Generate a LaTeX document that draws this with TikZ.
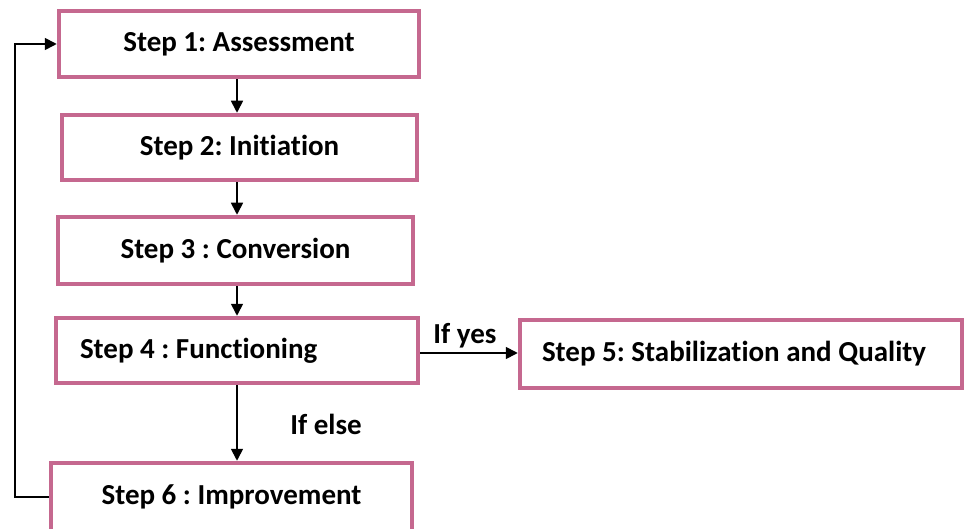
\documentclass[tikz,border=0pt]{standalone}
\usepackage{fontspec}
\setmainfont{Carlito}[Ligatures={NoCommon}]
\frenchspacing
\usetikzlibrary{arrows.meta}
\definecolor{boxpink}{RGB}{197,104,143}
\tikzset{
  stepbox/.style={draw=boxpink, line width=4.5pt, fill=white, rectangle, inner sep=0pt,
    font=\bfseries\fontsize{29}{32}\selectfont, text=black},
  arr/.style={draw=black, line width=1.7pt, -{Triangle[length=12pt,width=12pt]}},
  lbl/.style={font=\bfseries\fontsize{29}{32}\selectfont, inner sep=0pt}
}
\begin{document}
\begin{tikzpicture}[x=1pt,y=-1pt]
\useasboundingbox (0,0) rectangle (965,529);
\node[stepbox, minimum width=360pt, minimum height=66pt] (b1) at (239,44) {Step 1: Assessment};
\node[stepbox, minimum width=355pt, minimum height=65pt] (b2) at (239.5,147.5) {Step 2: Initiation};
\node[stepbox, minimum width=355pt, minimum height=67pt] (b3) at (235.5,250.5) {Step 3 : Conversion};
\node[stepbox, minimum width=362pt, minimum height=65pt, text width=314pt, align=flush left, inner xsep=24pt] (b4) at (237,350.5) {Step 4 : Functioning};
\node[stepbox, minimum width=442pt, minimum height=68pt, text width=398pt, align=flush left, inner xsep=22pt] (b5) at (741,354) {Step 5: Stabilization and Quality};
\node[stepbox, minimum width=361pt, minimum height=68pt] (b6) at (231.5,497) {Step 6 : Improvement};
\coordinate (ax) at (237,0);
\coordinate (lx) at (15,0);
\coordinate (ry) at (0,353);
\draw[arr] (b1.south -| ax) -- (b2.north -| ax);
\draw[arr] (b2.south -| ax) -- (b3.north -| ax);
\draw[arr] (b3.south -| ax) -- (b4.north -| ax);
\draw[arr] (b4.south -| ax) -- (b6.north -| ax);
\draw[arr] (b4.east |- ry) -- (b5.west |- ry);
\draw[arr] (b6.west) -- (b6.west -| lx) -- (b1.west -| lx) -- (b1.west);
\node[lbl] (yes) at (465,336) {If yes};
\node[lbl] (else) at (326,424) {If else};
\end{tikzpicture}
\end{document}
